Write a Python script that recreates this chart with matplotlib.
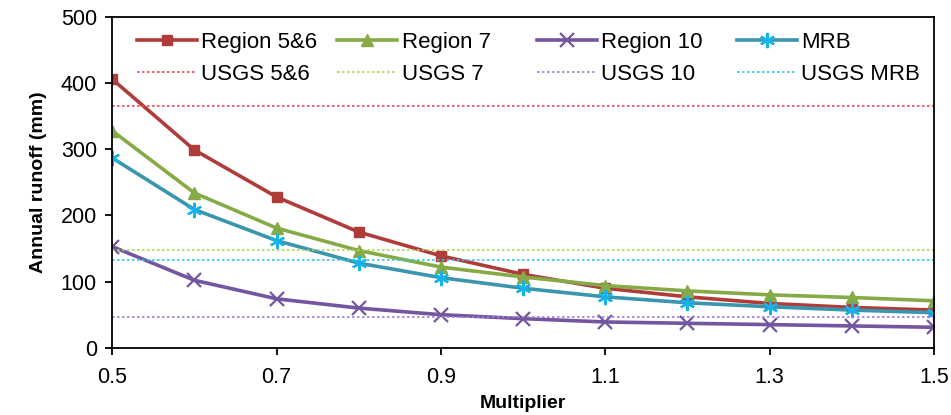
import matplotlib
matplotlib.use("Agg")
import matplotlib.pyplot as plt

plt.rcParams['font.family'] = ['Liberation Sans', 'DejaVu Sans']

# multiplier values on the x axis
mult = [0.5, 0.6, 0.7, 0.8, 0.9, 1.0, 1.1, 1.2, 1.3, 1.4, 1.5]

# annual runoff (mm)
region56 = [406, 299, 228, 175, 139, 111, 90, 77, 67, 61, 57]
region7 = [328, 234, 181, 147, 122, 107, 94, 86, 80, 76, 71]
region10 = [153, 102, 74, 60, 50, 44, 39, 37, 35, 33, 31]
mrb = [287, 209, 162, 128, 106, 90, 77, 68, 62, 57, 53]

# USGS reference values
usgs56 = 365
usgs7 = 148
usgs10 = 46
usgs_mrb = 133

fig = plt.figure(figsize=(9.51, 4.15), dpi=100)
ax = fig.add_axes([0.118, 0.162, 0.864, 0.797])

h1, = ax.plot(mult, region56, color='#B03C3A', lw=2.6, marker='s', ms=7.5,
              mfc='#B03C3A', mec='#B03C3A')
h2, = ax.plot(mult, region7, color='#86AA45', lw=2.6, marker='^', ms=8.5,
              mfc='#86AA45', mec='#86AA45')
h3, = ax.plot(mult, region10, color='#7455A0', lw=2.6, marker='x', ms=10,
              mew=1.6, mec='#7455A0')
h4, = ax.plot(mult, mrb, color='#3A96AE', lw=2.6, marker=(6, 2, 0), ms=11,
              mew=1.6, mec='#13B4EE')

ls = (0, (1.5, 1.5))
d1 = ax.axhline(usgs56, color='#F0474A', lw=1.2, ls=ls)
d2 = ax.axhline(usgs7, color='#A8D85A', lw=1.2, ls=ls)
d3 = ax.axhline(usgs10, color='#A27ED6', lw=1.2, ls=ls)
d4 = ax.axhline(usgs_mrb, color='#30C4F2', lw=1.2, ls=ls)

ax.set_xlim(0.5, 1.5)
ax.set_ylim(0, 500)
ax.set_xticks([0.5, 0.7, 0.9, 1.1, 1.3, 1.5])
ax.set_xticklabels(['0.5', '0.7', '0.9', '1.1', '1.3', '1.5'])
ax.set_yticks([0, 100, 200, 300, 400, 500])
ax.tick_params(axis='both', labelsize=15.5, width=1.3, length=5, direction='out')
ax.tick_params(axis='x', pad=9)
ax.tick_params(axis='y', pad=6)
for s in ax.spines.values():
    s.set_linewidth(1.3)

ax.set_xlabel('Multiplier', fontsize=14, fontweight='bold', labelpad=5)
ax.set_ylabel('Annual runoff (mm)', fontsize=14, fontweight='bold', labelpad=10)

# legend laid out as four equal columns, like the original
cols = [([h1, d1], ['Region 5&6', 'USGS 5&6']),
        ([h2, d2], ['Region 7', 'USGS 7']),
        ([h3, d3], ['Region 10', 'USGS 10']),
        ([h4, d4], ['MRB', 'USGS MRB'])]
xs = [0.030, 0.274, 0.517, 0.760]
legs = []
for (hs, labs), x in zip(cols, xs):
    lg = ax.legend(hs, labs, loc='upper left', bbox_to_anchor=(x, 0.956),
                   frameon=False, fontsize=16, handlelength=2.7,
                   handletextpad=0.2, labelspacing=0.5, borderpad=0,
                   borderaxespad=0)
    legs.append(lg)
for lg in legs[:-1]:
    ax.add_artist(lg)

fig.savefig('out.png', dpi=100)
